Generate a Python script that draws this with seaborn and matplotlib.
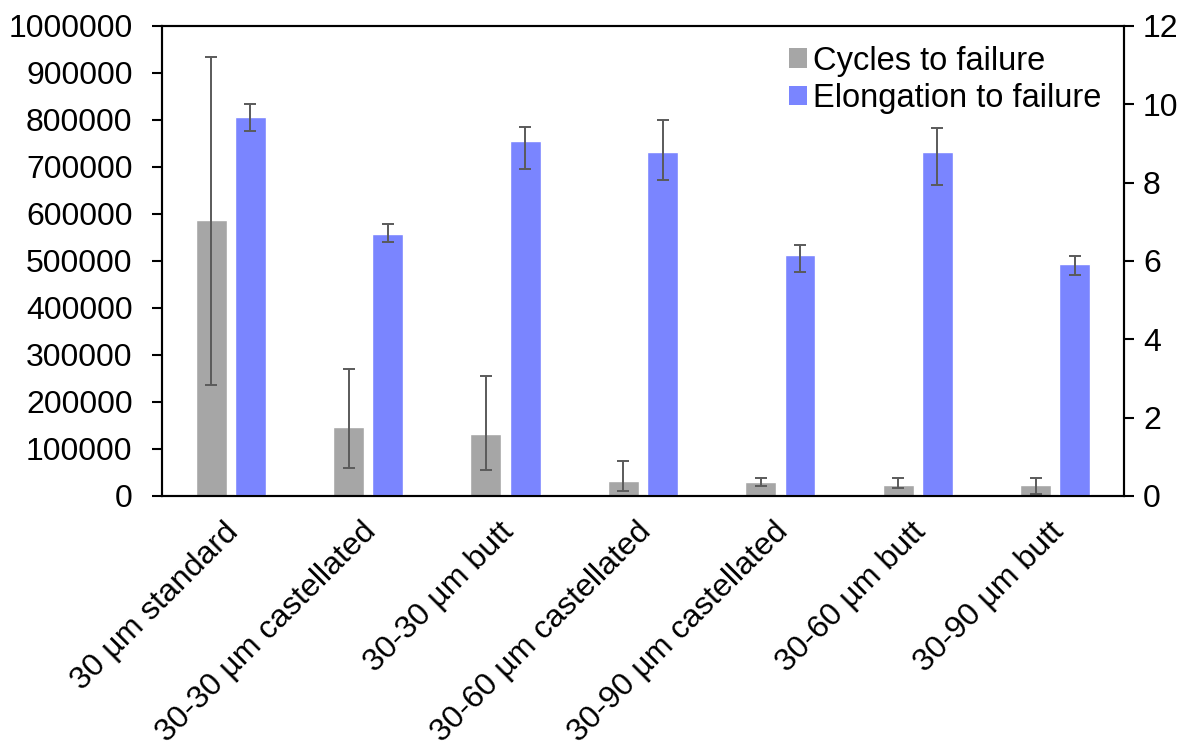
import numpy as np
import pandas as pd
import matplotlib
matplotlib.use("Agg")
import matplotlib.pyplot as plt
import matplotlib.transforms as mtransforms
import seaborn as sns
from matplotlib.patches import Patch

categories = ["30 µm standard", "30-30 µm castellated", "30-30 µm butt",
              "30-60 µm castellated", "30-90 µm castellated", "30-60 µm butt",
              "30-90 µm butt"]
cycles = [587000, 147000, 132000, 32000, 30000, 23000, 23000]
cycles_err_low = [351000, 87000, 76000, 21000, 8000, 5000, 18000]
cycles_err_high = [348000, 123000, 123000, 42000, 9000, 16000, 16000]
elong = [9.68, 6.69, 9.06, 8.77, 6.15, 8.77, 5.92]
elong_err_low = [0.36, 0.20, 0.70, 0.70, 0.44, 0.83, 0.28]
elong_err_high = [0.32, 0.25, 0.37, 0.84, 0.27, 0.63, 0.22]
series = ["Cycles to failure", "Elongation to failure"]
left_ticks = list(range(0, 1000001, 100000))
right_ticks = list(range(0, 13, 2))

sns.set_style("white")
plt.rcParams['font.family'] = ['Liberation Sans', 'DejaVu Sans']
plt.rcParams['text.color'] = 'black'
plt.rcParams['xtick.color'] = 'black'
plt.rcParams['ytick.color'] = 'black'
plt.rcParams['xtick.labelcolor'] = 'black'
plt.rcParams['ytick.labelcolor'] = 'black'

FS = 23.5
TFS = 23
XFS = 23
colors = {"Cycles to failure": "#A6A6A6", "Elongation to failure": "#7A85FF"}

df1 = pd.DataFrame({"cat": categories, "val": cycles, "series": series[0]})
df2 = pd.DataFrame({"cat": categories, "val": elong, "series": series[1]})

fig = plt.figure(figsize=(11.98, 7.49), dpi=100)
ax = fig.add_axes([0.1352, 0.3378, 0.9382 - 0.1352, 0.9653 - 0.3378])
ax2 = ax.twinx()

kw = dict(x="cat", y="val", hue="series", hue_order=series, order=categories,
          palette=colors, width=0.57, gap=0.21, dodge=True, legend=False,
          errorbar=None, saturation=1)
sns.barplot(data=df1, ax=ax, **kw)
sns.barplot(data=df2, ax=ax2, **kw)

def centers(a):
    return [p.get_x() + p.get_width() / 2 for p in a.patches if p.get_height() > 0]

ebkw = dict(fmt="none", ecolor="#5A5A5A", elinewidth=1.4, capsize=4.5, capthick=1.4)
ax.errorbar(centers(ax), cycles, yerr=[cycles_err_low, cycles_err_high], **ebkw)
ax2.errorbar(centers(ax2), elong, yerr=[elong_err_low, elong_err_high], **ebkw)

for a in (ax, ax2):
    a.set_xlim(-0.5, len(categories) - 0.5)
    a.set_xlabel("")
    a.set_ylabel("")
    for s in a.spines.values():
        s.set_visible(True)
        s.set_color("black")
        s.set_linewidth(1.5)

ax.set_ylim(0, 1000000)
ax.set_yticks(left_ticks)
ax.set_yticklabels([str(t) for t in left_ticks])
ax2.set_ylim(0, 12)
ax2.set_yticks(right_ticks)
ax2.set_yticklabels([str(t) for t in right_ticks])

ax.set_xticks(np.arange(-0.5, len(categories), 1))
ax.set_xticklabels([])
ax.set_xticks(np.arange(len(categories)), minor=True)
ax.set_xticklabels(categories, minor=True, rotation=45, ha="right",
                   rotation_mode="anchor", fontsize=XFS)
ax.tick_params(axis="x", which="minor", length=0, pad=15)
ax.tick_params(axis="x", which="major", length=7.2, width=1.5, direction="out")
ax.tick_params(axis="y", length=7.2, width=1.5, direction="out", labelsize=TFS, pad=14, left=True)
ax2.tick_params(axis="y", length=7.2, width=1.5, direction="out", labelsize=TFS, pad=6.5, right=True)
ax2.tick_params(axis="x", which="both", bottom=False, labelbottom=False)

shift = mtransforms.ScaledTranslation(-7 / 100, 0, fig.dpi_scale_trans)
for lbl in ax.get_xticklabels(minor=True):
    lbl.set_transform(lbl.get_transform() + shift)

handles = [Patch(facecolor=colors[s], edgecolor="none") for s in series]
ax2.legend(handles, series, loc="upper right", frameon=False, fontsize=FS,
           handlelength=0.55, handleheight=0.55, handletextpad=0.2,
           labelspacing=0.2, bbox_to_anchor=(0.997, 1.0), borderaxespad=0.2)

fig.savefig("out.png", dpi=100)
